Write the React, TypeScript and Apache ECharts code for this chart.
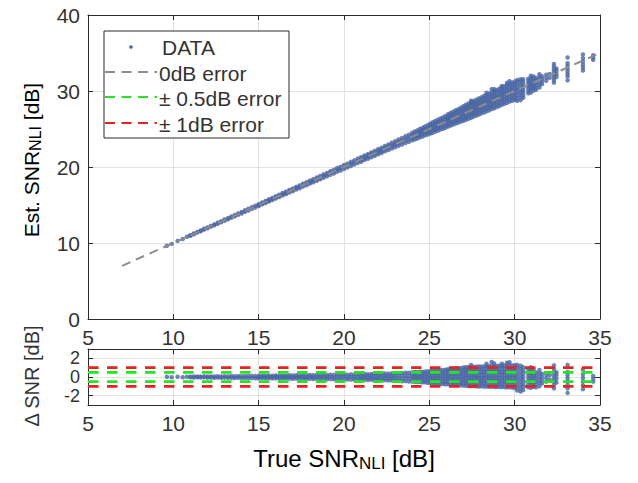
import React, { useEffect, useRef } from "react";
import * as echarts from "echarts";

// ---------- data ----------
// Each column: [true SNR_NLI (dB), estimation errors Est - True (dB) observed at that true SNR]
const colsSparse: [number, number[]][] = [
  [9.62, [0.02]], [9.9, [-0.02]], [10.25, [0.03]], [10.55, [-0.03]], [10.8, [0.02]], [11.0, [-0.04, 0.04]],
];
const colsLow: [number, number[]][] = [
  [11.2, [-0.05, 0.05]], [11.4, [-0.03, 0.06]], [11.6, [-0.06, 0.04]], [11.8, [-0.04, 0.07]],
  [12.0, [-0.07, 0.05]], [12.2, [-0.05, 0.06]], [12.4, [-0.08, 0.05]], [12.6, [-0.06, 0.08]],
  [12.8, [-0.08, 0.06]], [13.0, [-0.07, 0.09]], [13.2, [-0.09, 0.07]], [13.4, [-0.08, 0.1]],
  [13.6, [-0.1, 0.08]], [13.8, [-0.09, 0.1]], [14.0, [-0.11, 0.09]], [14.2, [-0.1, 0.11]],
  [14.4, [-0.12, 0.1]], [14.6, [-0.11, 0.12]], [14.8, [-0.13, 0.11]],
  [15.0, [-0.13, 0.0, 0.12]], [15.2, [-0.12, 0.02, 0.14]], [15.4, [-0.14, -0.01, 0.13]], [15.6, [-0.13, 0.03, 0.15]],
  [15.8, [-0.15, 0.0, 0.14]], [16.0, [-0.14, 0.02, 0.16]], [16.2, [-0.16, -0.02, 0.15]], [16.4, [-0.15, 0.03, 0.17]],
  [16.6, [-0.17, 0.0, 0.16]], [16.8, [-0.16, 0.02, 0.18]], [17.0, [-0.18, -0.01, 0.17]], [17.2, [-0.17, 0.03, 0.19]],
  [17.4, [-0.19, 0.0, 0.18]], [17.6, [-0.18, 0.02, 0.2]], [17.8, [-0.2, -0.02, 0.19]], [18.0, [-0.19, 0.03, 0.21]],
  [18.2, [-0.21, 0.0, 0.2]], [18.4, [-0.2, 0.02, 0.22]], [18.6, [-0.22, -0.01, 0.21]], [18.8, [-0.21, 0.03, 0.23]],
];
const colsMid: [number, number[]][] = [
  [19.0, [-0.24, 0.0, 0.22]], [19.2, [-0.22, 0.03, 0.25]], [19.4, [-0.25, -0.02, 0.23]], [19.6, [-0.23, 0.02, 0.26]],
  [19.8, [-0.26, 0.0, 0.24]], [20.0, [-0.25, 0.03, 0.27]], [20.2, [-0.27, -0.02, 0.25]], [20.4, [-0.26, 0.02, 0.28]],
  [20.6, [-0.28, 0.0, 0.27]], [20.8, [-0.27, 0.03, 0.3]],
  [21.0, [-0.3, -0.1, 0.1, 0.29]], [21.2, [-0.29, -0.08, 0.12, 0.32]], [21.4, [-0.32, -0.11, 0.1, 0.3]],
  [21.6, [-0.31, -0.09, 0.13, 0.33]], [21.8, [-0.34, -0.12, 0.11, 0.32]], [22.0, [-0.33, -0.1, 0.13, 0.35]],
  [22.2, [-0.35, -0.12, 0.12, 0.34]], [22.4, [-0.34, -0.1, 0.14, 0.37]], [22.6, [-0.37, -0.13, 0.12, 0.36]],
  [22.8, [-0.36, -0.11, 0.14, 0.39]], [23.0, [-0.4, -0.14, 0.12, 0.4]], [23.2, [-0.42, -0.13, 0.15, 0.43]],
  [23.4, [-0.45, -0.15, 0.13, 0.42]], [23.6, [-0.44, -0.14, 0.16, 0.46]], [23.8, [-0.48, -0.16, 0.14, 0.45]],
  [24.0, [-0.5, -0.25, 0.0, 0.24, 0.5]], [24.15, [-0.52, -0.22, 0.03, 0.27, 0.53]], [24.3, [-0.55, -0.27, -0.02, 0.25, 0.52]],
  [24.45, [-0.54, -0.24, 0.02, 0.28, 0.57]], [24.6, [-0.58, -0.28, 0.0, 0.27, 0.55]], [24.75, [-0.57, -0.26, 0.03, 0.3, 0.6]],
  [24.9, [-0.62, -0.3, -0.02, 0.28, 0.59]],
  [25.05, [-0.66, -0.4, -0.13, 0.14, 0.41, 0.64]], [25.2, [-0.69, -0.42, -0.15, 0.12, 0.4, 0.68]],
  [25.35, [-0.7, -0.43, -0.14, 0.15, 0.43, 0.7]], [25.5, [-0.73, -0.45, -0.16, 0.13, 0.42, 0.71]],
  [25.65, [-0.72, -0.44, -0.15, 0.16, 0.45, 0.74]], [25.8, [-0.76, -0.47, -0.17, 0.14, 0.44, 0.73]],
  [25.95, [-0.78, -0.48, -0.16, 0.16, 0.47, 0.77]],
];
const colsHigh: [number, number[]][] = [
  [26.1, [-0.78, -0.5, -0.22, 0.05, 0.32, 0.58, 0.84]], [26.25, [-0.8, -0.52, -0.24, 0.07, 0.35, 0.6, 0.87]],
  [26.4, [-0.81, -0.53, -0.25, 0.03, 0.33, 0.61, 0.89]], [26.55, [-0.84, -0.55, -0.26, 0.06, 0.35, 0.63, 0.91]],
  [26.7, [-0.85, -0.55, -0.25, 0.05, 0.36, 0.64, 0.92]], [26.85, [-0.88, -0.57, -0.27, 0.07, 0.37, 0.66, 0.95]],
  [27.0, [-0.92, -0.64, -0.36, -0.08, 0.2, 0.48, 0.76, 1.01]], [27.15, [-0.94, -0.65, -0.37, -0.07, 0.21, 0.5, 0.78, 1.04]],
  [27.3, [-0.96, -0.66, -0.36, -0.08, 0.22, 0.51, 0.79, 1.06]], [27.45, [-0.98, -0.68, -0.38, -0.09, 0.2, 0.5, 0.8, 1.08, 1.28]],
  [27.6, [-0.97, -0.67, -0.37, -0.07, 0.22, 0.52, 0.81, 1.09]], [27.75, [-0.99, -0.69, -0.39, -0.09, 0.21, 0.51, 0.81, 1.1]],
  [27.9, [-1.01, -0.7, -0.39, -0.08, 0.22, 0.53, 0.83, 1.12]], [28.05, [-1.0, -0.7, -0.4, -0.1, 0.21, 0.52, 0.82, 1.11]],
  [28.2, [-1.03, -0.72, -0.41, -0.09, 0.22, 0.54, 0.84, 1.14]], [28.35, [-1.02, -0.71, -0.4, -0.09, 0.23, 0.53, 0.85, 1.16, 1.42]],
  [28.5, [-1.05, -0.74, -0.42, -0.1, 0.22, 0.54, 0.86, 1.16]], [28.65, [-1.03, -0.73, -0.41, -0.09, 0.23, 0.55, 0.87, 1.18, 1.6]],
  [28.8, [-1.07, -0.75, -0.42, -0.1, 0.22, 0.55, 0.88, 1.19, 1.45]], [28.95, [-1.05, -0.74, -0.42, -0.09, 0.23, 0.56, 0.88, 1.18]],
  [29.1, [-1.08, -0.76, -0.43, -0.1, 0.23, 0.56, 0.89, 1.21]], [29.25, [-1.06, -0.75, -0.42, -0.09, 0.24, 0.57, 0.9, 1.2, 1.42]],
  [29.4, [-1.09, -0.77, -0.44, -0.1, 0.23, 0.56, 0.9, 1.22]], [29.55, [-1.11, -0.78, -0.44, -0.11, 0.23, 0.57, 0.91, 1.24, 1.52]],
  [29.7, [-1.1, -0.77, -0.44, -0.1, 0.24, 0.58, 0.92, 1.26, 1.58]], [29.85, [-1.13, -0.79, -0.45, -0.11, 0.23, 0.57, 0.91, 1.24]],
  [30.0, [-1.18, -0.82, -0.46, -0.11, 0.24, 0.58, 0.93, 1.26]],
  [30.15, [-1.45, -1.1, -0.75, -0.4, -0.05, 0.3, 0.65, 1.0, 1.3]],
  [30.35, [-1.55, -1.2, -0.85, -0.5, -0.15, 0.2, 0.55, 0.9, 1.2]],
  [30.5, [-1.4, -1.05, -0.7, -0.35, 0.0, 0.35, 0.7, 1.05]],
];
const colsTail: [number, number[]][] = [
  [30.8, [-1.1, -0.78, -0.46, -0.14, 0.18, 0.5, 0.82]], [30.95, [-1.15, -0.82, -0.5, -0.18, 0.14, 0.46, 0.78, 1.05]],
  [31.1, [-1.05, -0.74, -0.43, -0.12, 0.19, 0.5, 0.8]], [31.25, [-1.1, -0.8, -0.48, -0.16, 0.16, 0.48]],
  [31.45, [-1.0, -0.65, -0.3, 0.05, 0.4, 0.75]], [31.6, [-0.7, -0.35, 0.0, 0.35]],
  [31.85, [-0.5, -0.1, 0.3]], [32.05, [-0.3, 0.2]],
  [32.3, [-1.2, -0.85, -0.5, -0.15, 0.2, 0.55, 0.9, 1.25]], [32.45, [-0.6, -0.2, 0.2, 0.5]],
  [33.1, [-1.7, -1.2, -0.85, -0.5, -0.15, 0.2, 0.55, 1.3]],
  [34.0, [-1.3, -0.9, -0.5, -0.1, 0.3, 0.8]],
  [34.6, [-0.5, -0.2, 0.1]],
];

const xTicksRange = [5, 35];
const estRange = [0, 40];
const deltaRange = [-3, 3];
const zeroErrLine = [7, 35];
const halfDbLevels = [-0.5, 0.5];
const oneDbLevels = [-1, 1];

// ---------- styling ----------
const FONT = "'Liberation Sans', Arial, Helvetica, sans-serif";
const DOT = "#4a66a4";
const AXIS = "#2b2b2b";
const LABEL = "#333333";
const GRIDC = "#e2e2e2";
const GRAY = "#8c8c8c";
const GREEN = "#22e622";
const RED = "#e82222";

export default function App() {
  const ref = useRef<HTMLDivElement>(null);

  useEffect(() => {
    if (!ref.current) return;
    const chart = echarts.init(ref.current, undefined, { renderer: "svg" });

    const cols = [...colsSparse, ...colsLow, ...colsMid, ...colsHigh, ...colsTail];
    const topPts: number[][] = [];
    const botPts: number[][] = [];
    cols.forEach(([x, ds]) =>
      ds.forEach((d) => {
        topPts.push([x, Math.round((x + d) * 100) / 100]);
        botPts.push([x, d]);
      })
    );

    const tick = { inside: true, length: 5, lineStyle: { color: AXIS, width: 1 } };
    const line = { show: true, onZero: false, lineStyle: { color: AXIS, width: 1 } };
    const split = { show: true, showMinLine: false, showMaxLine: false, lineStyle: { color: GRIDC, width: 1 } };
    const lab = { fontSize: 21, color: LABEL, fontFamily: FONT };

    const xAx = (grid: number, pos: string, labels: boolean) => ({
      type: "value",
      gridIndex: grid,
      position: pos,
      min: xTicksRange[0],
      max: xTicksRange[1],
      interval: 5,
      axisLine: line,
      axisTick: tick,
      axisLabel: labels ? { ...lab, margin: 8 } : { show: false },
      splitLine: labels ? split : { show: false },
    });

    const hLine = (lvl: number, color: string, name: string) => ({
      type: "line",
      name,
      xAxisIndex: 2,
      yAxisIndex: 2,
      data: [[xTicksRange[0], lvl], [xTicksRange[1], lvl]],
      symbol: "none",
      silent: true,
      z: 4,
      lineStyle: { color, width: 2.6, type: [10.5, 8.5] },
    });

    const sub = (fs: number, ss: number) => ({
      m: { fontSize: fs, fontFamily: FONT, color: LABEL, lineHeight: fs + 4, verticalAlign: "middle" },
      s: { fontSize: ss, fontFamily: FONT, color: LABEL, lineHeight: ss + 2, padding: [29, 0, 0, 0], verticalAlign: "bottom" },
    });

    const legendRows = [
      { y: 72, color: GRAY, text: "0dB error" },
      { y: 97, color: GREEN, text: "± 0.5dB error" },
      { y: 123, color: RED, text: "± 1dB error" },
    ];

    chart.setOption({
      animation: false,
      backgroundColor: "#ffffff",
      textStyle: { fontFamily: FONT },
      grid: [
        { left: 88, top: 15, width: 512, height: 304, show: false },
        { left: 88, top: 349, width: 512, height: 56, show: false },
      ],
      xAxis: [xAx(0, "bottom", true), xAx(0, "top", false), xAx(1, "bottom", true), xAx(1, "top", false)],
      yAxis: [
        {
          type: "value", gridIndex: 0, position: "left", min: estRange[0], max: estRange[1], interval: 10,
          axisLine: line, axisTick: tick, axisLabel: { ...lab, margin: 8 }, splitLine: split,
        },
        {
          type: "value", gridIndex: 0, position: "right", min: estRange[0], max: estRange[1], interval: 10,
          axisLine: line, axisTick: tick, axisLabel: { show: false }, splitLine: { show: false },
        },
        {
          type: "value", gridIndex: 1, position: "left", min: deltaRange[0], max: deltaRange[1],
          minInterval: 2, maxInterval: 2, splitNumber: 3,
          axisLine: line, axisTick: tick,
          axisLabel: { ...lab, fontSize: 18, margin: 8, showMinLabel: false, showMaxLabel: false },
          splitLine: split,
        },
        {
          type: "value", gridIndex: 1, position: "right", min: deltaRange[0], max: deltaRange[1],
          minInterval: 2, maxInterval: 2, splitNumber: 3,
          axisLine: line, axisTick: tick, axisLabel: { show: false }, splitLine: { show: false },
        },
      ],
      series: [
        {
          type: "scatter", name: "DATA", xAxisIndex: 0, yAxisIndex: 0, data: topPts,
          symbol: "circle", symbolSize: 4.5, itemStyle: { color: DOT }, silent: true, z: 2,
        },
        {
          type: "line", name: "0dB error", xAxisIndex: 0, yAxisIndex: 0,
          data: zeroErrLine.map((v) => [v, v]), symbol: "none", silent: true, z: 4,
          lineStyle: { color: GRAY, width: 2, type: [9, 6] },
        },
        {
          type: "scatter", name: "ΔSNR", xAxisIndex: 2, yAxisIndex: 2, data: botPts,
          symbol: "circle", symbolSize: 4.5, itemStyle: { color: DOT }, silent: true, z: 2,
        },
        ...halfDbLevels.map((l) => hLine(l, GREEN, "± 0.5dB error")),
        ...oneDbLevels.map((l) => hLine(l, RED, "± 1dB error")),
      ],
      graphic: [
        {
          type: "group",
          children: [
            { type: "rect", shape: { x: 104, y: 31, width: 185, height: 107 }, style: { fill: "#fff", stroke: AXIS, lineWidth: 1 }, z: 10 },
            { type: "circle", shape: { cx: 131, cy: 47, r: 1.8 }, style: { fill: DOT }, z: 11 },
            {
              type: "text", x: 162, y: 47, z: 11,
              style: { text: "DATA", fontSize: 21, fontFamily: FONT, fill: LABEL, align: "left", verticalAlign: "middle" },
            },
            ...legendRows.flatMap((r) => [
              {
                type: "line", z: 11,
                shape: { x1: 105, y1: r.y, x2: 157, y2: r.y },
                style: { stroke: r.color, lineWidth: 2.2, lineDash: [10, 6.5] },
              },
              {
                type: "text", x: 159, y: r.y + 1, z: 11,
                style: { text: r.text, fontSize: 21, fontFamily: FONT, fill: LABEL, align: "left", verticalAlign: "middle" },
              },
            ]),
          ],
        },
        {
          type: "text", x: 344, y: 458,
          style: {
            text: "{m|True SNR}{s|NLI}{m| [dB]}", rich: sub(24, 17),
            align: "center", verticalAlign: "middle",
          },
        },
        {
          type: "text", x: 31, y: 160, rotation: Math.PI / 2,
          style: {
            text: "{m|Est. SNR}{s|NLI}{m| [dB]}", rich: sub(21, 16),
            align: "center", verticalAlign: "middle",
          },
        },
        {
          type: "text", x: 32, y: 376, rotation: Math.PI / 2,
          style: {
            text: "Δ SNR [dB]", fontSize: 20, fontFamily: FONT, fill: LABEL,
            align: "center", verticalAlign: "middle",
          },
        },
      ],
    });

    return () => chart.dispose();
  }, []);

  return (
    <div
      ref={ref}
      style={{ position: "fixed", left: 0, top: 0, width: 638, height: 483, background: "#fff" }}
    />
  );
}
